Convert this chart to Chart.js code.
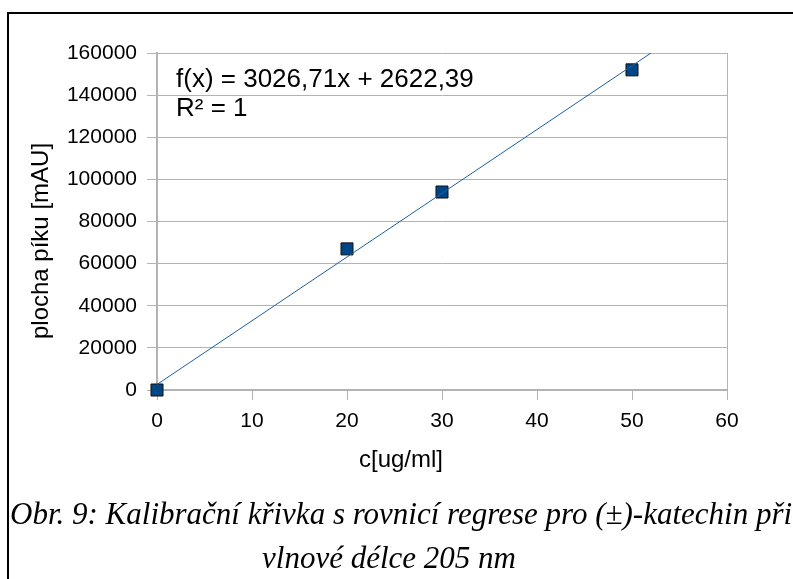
<!DOCTYPE html>
<html lang="cs">
<head>
    <meta charset="UTF-8">
    <title>Kalibrační křivka</title>
    <script src="https://cdn.jsdelivr.net/npm/chart.js"></script>
    <style>
        html, body {
            margin: 0;
            padding: 0;
            background: #fff;
        }

        .page {
            position: relative;
            width: 793px;
            height: 579px;
            overflow: hidden;
        }

        .frame-top {
            position: absolute;
            left: 7px;
            top: 12px;
            width: 786px;
            height: 2px;
            background: #000;
        }

        .frame-left {
            position: absolute;
            left: 7px;
            top: 12px;
            width: 2px;
            height: 567px;
            background: #000;
        }

        canvas {
            position: absolute;
            left: 0;
            top: 0;
        }

        .caption {
            position: absolute;
            font-family: "Liberation Serif", serif;
            font-style: italic;
            font-size: 31px;
            color: #000;
            white-space: nowrap;
            line-height: 1;
        }
    </style>
</head>
<body>
<div class="page">
    <canvas id="calChart" width="793" height="579"></canvas>
    <div class="frame-top"></div>
    <div class="frame-left"></div>
    <div class="caption" style="left: 10px; top: 498px;">Obr. 9: Kalibrační křivka s rovnicí regrese pro (±)-katechin při</div>
    <div class="caption" style="left: 0; width: 778px; text-align: center; top: 542px;">vlnové délce 205 nm</div>
</div>

<script>
    // measured points
    const concentrations = [0, 20, 30, 50];
    const peakAreas = [0, 67000, 94000, 152000];

    // regression line as drawn (ends where it leaves the plot at the top)
    const trendX = [0, 52];
    const trendY = [2622, 160000];

    const xTickValues = [0, 10, 20, 30, 40, 50, 60];
    const yTickValues = [0, 20000, 40000, 60000, 80000, 100000, 120000, 140000, 160000];

    const equationLines = ['f(x) = 3026,71x + 2622,39', 'R² = 1'];
    const xTitle = 'c[ug/ml]';
    const yTitle = 'plocha píku [mAU]';

    const gridGray = '#b3b3b3';
    const font = '"Liberation Sans", Arial, sans-serif';

    const textPlugin = {
        id: 'chartTexts',
        afterDraw(chart) {
            const ctx = chart.ctx;
            const area = chart.chartArea;
            ctx.save();
            ctx.fillStyle = '#000';
            ctx.textBaseline = 'alphabetic';
            ctx.textAlign = 'left';
            ctx.font = '26px ' + font;
            ctx.fillText(equationLines[0], area.left + 19, area.top + 34);
            ctx.fillText(equationLines[1], area.left + 19, area.top + 63);

            // axis titles
            ctx.font = '24px ' + font;
            ctx.textAlign = 'center';
            ctx.fillText(xTitle, 401, 467);

            ctx.textBaseline = 'middle';
            ctx.translate(41, 241);
            ctx.rotate(-Math.PI / 2);
            ctx.fillText(yTitle, 0, 0);
            ctx.restore();
        }
    };

    new Chart(document.getElementById('calChart').getContext('2d'), {
        type: 'scatter',
        data: {
            datasets: [{
                type: 'line',
                data: trendX.map((x, i) => ({x: x, y: trendY[i]})),
                borderColor: '#1f5f9e',
                borderWidth: 1,
                pointRadius: 0,
                fill: false
            }, {
                data: concentrations.map((c, i) => ({x: c, y: peakAreas[i]})),
                pointStyle: 'rect',
                pointRadius: 8.5,
                pointHoverRadius: 8.5,
                backgroundColor: '#004586',
                borderColor: '#111',
                borderWidth: 1,
                clip: false
            }]
        },
        options: {
            responsive: false,
            animation: false,
            events: [],
            layout: {
                padding: {top: 53, right: 66, left: 0, bottom: 129}
            },
            plugins: {
                legend: {display: false},
                tooltip: {enabled: false}
            },
            scales: {
                x: {
                    type: 'linear',
                    min: 0,
                    max: 60,
                    afterFit: function (scale) {
                        scale.height = 60;
                    },
                    afterBuildTicks: function (scale) {
                        scale.ticks = xTickValues.map(v => ({value: v}));
                    },
                    grid: {
                        drawOnChartArea: true,
                        color: ctx => ctx.index === xTickValues.length - 1 ? gridGray : 'rgba(0,0,0,0)',
                        tickColor: gridGray,
                        tickLength: 10,
                        lineWidth: 1
                    },
                    border: {color: gridGray, width: 2},
                    ticks: {
                        color: '#000',
                        padding: 9,
                        maxRotation: 0,
                        autoSkip: false,
                        font: {family: font, size: 21}
                    }
                },
                y: {
                    min: 0,
                    max: 160000,
                    afterFit: function (scale) {
                        scale.width = 157;
                    },
                    afterBuildTicks: function (scale) {
                        scale.ticks = yTickValues.map(v => ({value: v}));
                    },
                    grid: {
                        color: gridGray,
                        tickLength: 10,
                        lineWidth: 1
                    },
                    border: {color: gridGray, width: 2},
                    ticks: {
                        color: '#000',
                        padding: 10,
                        autoSkip: false,
                        font: {family: font, size: 21},
                        callback: v => String(v)
                    }
                }
            }
        },
        plugins: [textPlugin]
    });
</script>
</body>
</html>
